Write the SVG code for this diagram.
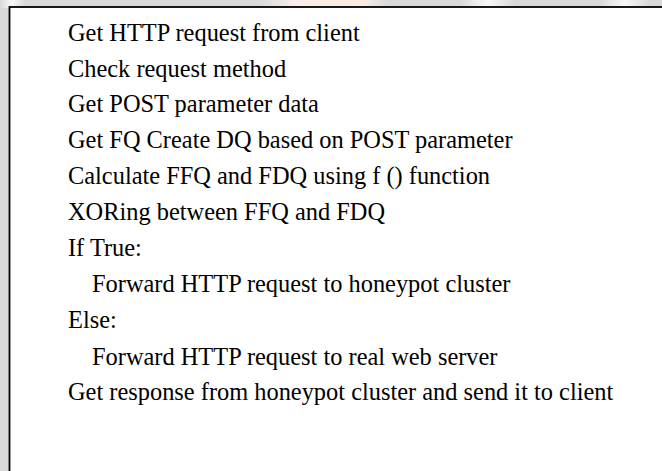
<svg xmlns="http://www.w3.org/2000/svg" width="662" height="471" viewBox="0 0 662 471">
<defs>
<linearGradient id="pink" x1="0" x2="1" y1="0" y2="0">
<stop offset="0" stop-color="#f4ece8" stop-opacity="0"/>
<stop offset="0.3" stop-color="#fbeee8"/>
<stop offset="0.8" stop-color="#fde9e2"/>
<stop offset="1" stop-color="#f4ece8" stop-opacity="0"/>
</linearGradient>
<linearGradient id="wfade" x1="0" x2="1" y1="0" y2="0">
<stop offset="0" stop-color="#ffffff" stop-opacity="0"/>
<stop offset="0.5" stop-color="#f6f6f6"/>
<stop offset="1" stop-color="#ffffff" stop-opacity="0"/>
</linearGradient>
<style>
.t{font-family:"Liberation Serif","Times New Roman",serif;font-size:24.4px;fill:#000}
</style>
</defs>
<g id="background">
<rect x="0" y="0" width="662" height="471" fill="#d8d8d8"/>
<rect x="255" y="0" width="135" height="8" fill="url(#pink)"/>
<rect x="460" y="0" width="55" height="8" fill="url(#wfade)"/>
<rect x="600" y="0" width="50" height="8" fill="url(#wfade)"/>
<rect x="0" y="0" width="25" height="8" fill="url(#wfade)"/>
</g>
<g id="box">
<rect x="9.5" y="7" width="660" height="470" fill="#ffffff" stroke="#000000" stroke-width="1.8"/>
</g>
<g id="lines">
<text class="t" x="68" y="41">Get HTTP request from client</text>
<text class="t" x="68" y="77">Check request method</text>
<text class="t" x="68" y="112">Get POST parameter data</text>
<text class="t" x="68" y="148">Get FQ Create DQ based on POST parameter</text>
<text class="t" x="68" y="184">Calculate FFQ and FDQ using f () function</text>
<text class="t" x="68" y="220">XORing between FFQ and FDQ</text>
<text class="t" x="68" y="256">If True:</text>
<text class="t" x="92" y="292">Forward HTTP request to honeypot cluster</text>
<text class="t" x="68" y="328">Else:</text>
<text class="t" x="92" y="365">Forward HTTP request to real web server</text>
<text class="t" x="68" y="400">Get response from honeypot cluster and send it to client</text>
</g>
</svg>
